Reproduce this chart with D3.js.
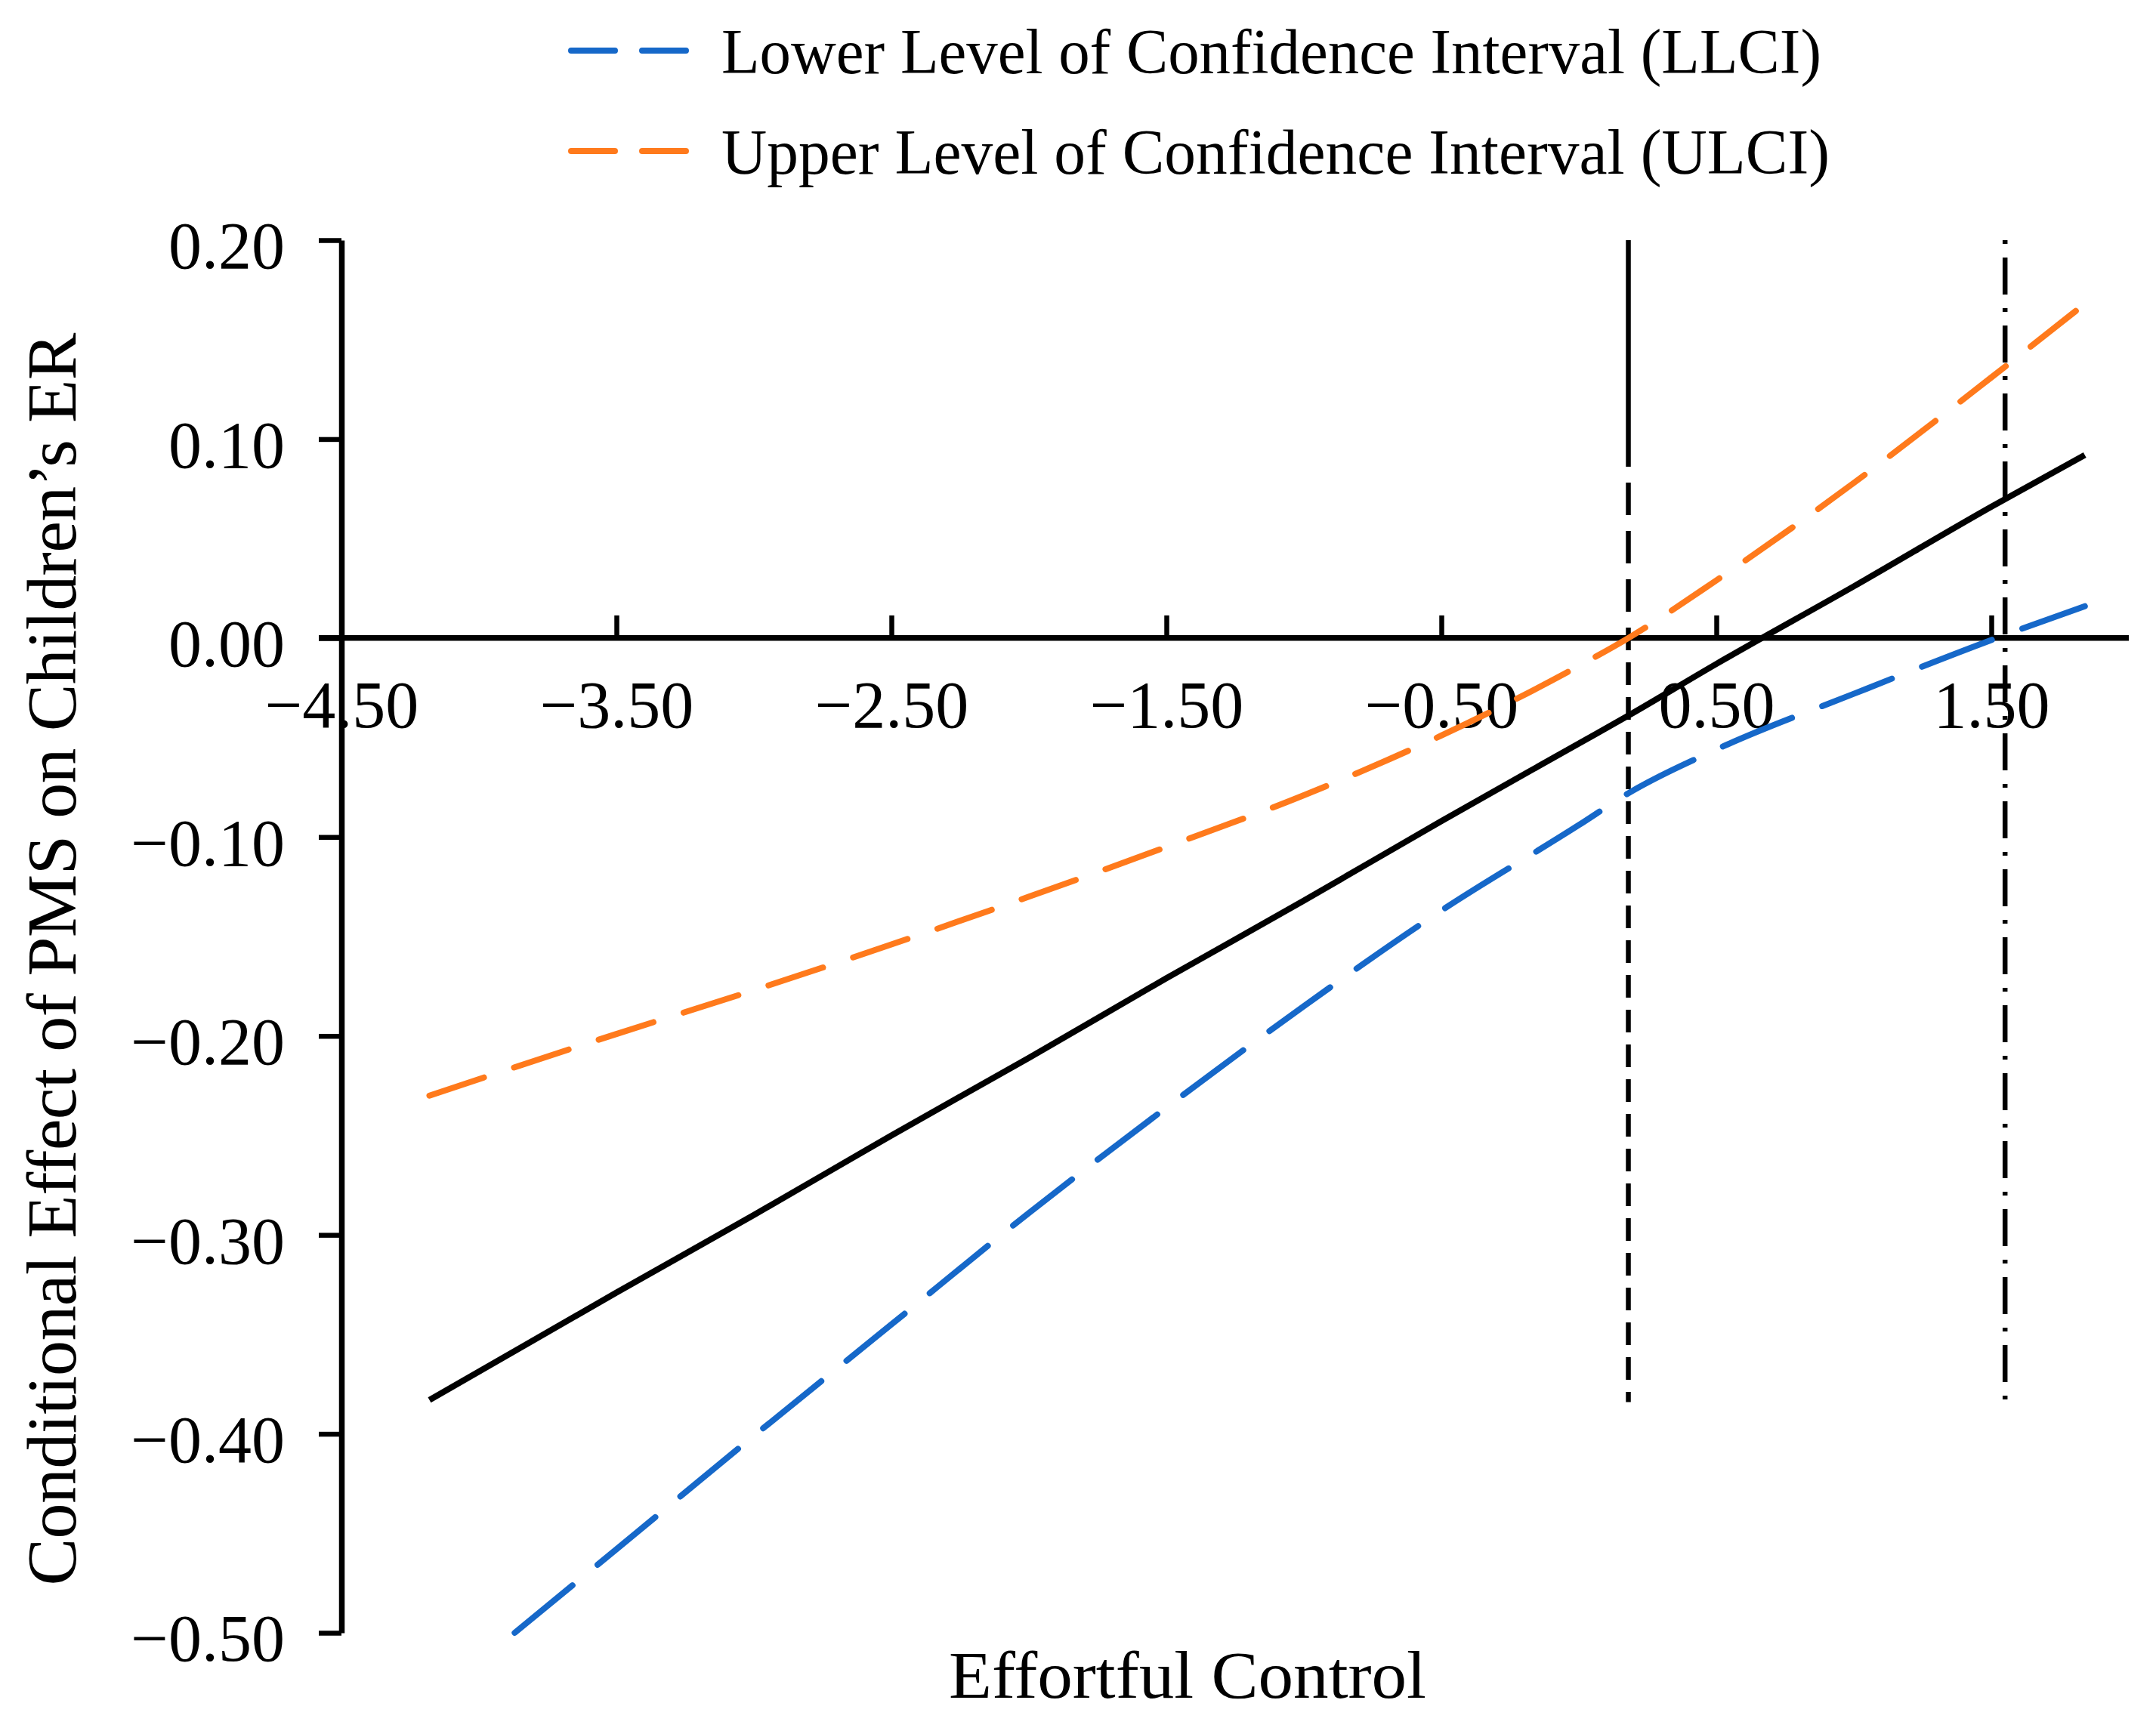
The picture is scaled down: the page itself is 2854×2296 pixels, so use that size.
<!DOCTYPE html>
<html>
<head>
<meta charset="utf-8">
<script src="https://cdn.jsdelivr.net/npm/d3@7"></script>
<style>
  html, body { margin: 0; padding: 0; background: #ffffff; }
  svg { display: block; }
  text { font-family: "Liberation Serif", "DejaVu Serif", serif; fill: #000; }
</style>
</head>
<body>
<svg id="chart" width="2854" height="2296"></svg>
<script>
// ---- Data ----
const effectX = [-4.18, -3.5, -3.0, -2.5, -2.0, -1.5, -1.0, -0.5, 0.0, 0.18, 0.5, 1.0, 1.5, 1.84];
const effect  = [-0.383, -0.329, -0.290, -0.250, -0.211, -0.171, -0.132, -0.092, -0.053, -0.039, -0.013, 0.026, 0.066, 0.092];

const ulciX = [-4.18, -3.5, -3.0, -2.5, -2.0, -1.5, -1.0, -0.5, 0.0, 0.18, 0.5, 1.0, 1.5, 1.84];
const ulci  = [-0.230, -0.199, -0.177, -0.154, -0.130, -0.105, -0.079, -0.049, -0.014, 0.000, 0.029, 0.078, 0.131, 0.168];

const llciX = [-3.87, -3.5, -3.0, -2.5, -2.0, -1.5, -1.0, -0.5, 0.0, 0.18, 0.5, 1.0, 1.5, 1.84];
const llci  = [-0.500, -0.458, -0.401, -0.345, -0.289, -0.236, -0.185, -0.137, -0.094, -0.078, -0.056, -0.028, -0.001, 0.016];

const jnPoints = [0.18, 1.55];       // Johnson-Neyman boundaries (vertical lines)
const jnBottom = -0.384;             // lower end of the vertical lines

const xTicks = [-4.5, -3.5, -2.5, -1.5, -0.5, 0.5, 1.5];
const yTicks = [0.2, 0.1, 0.0, -0.1, -0.2, -0.3, -0.4, -0.5];
const xDomain = [-4.5, 2.0];
const yDomain = [-0.5, 0.2];

const legendLabels = ["Lower Level of Confidence Interval (LLCI)", "Upper Level of Confidence Interval (ULCI)"];
const xTitle = "Effortful Control";
const yTitle = "Conditional Effect of PMS on Children\u2019s ER";

// ---- Drawing ----
const svg = d3.select("#chart");
svg.append("rect").attr("width", 2854).attr("height", 2296).attr("fill", "#fff");

const x = d3.scaleLinear().domain(xDomain).range([452, 2818]);
const y = d3.scaleLinear().domain(yDomain).range([2162, 318]);

const BLUE = "#1668C9", ORANGE = "#FF7A1C";
const fmt = d3.format(".2f");

// Y axis
const yAxis = d3.axisLeft(y).tickValues(yTicks).tickSize(30).tickSizeOuter(0).tickPadding(45).tickFormat(fmt);
const gy = svg.append("g").attr("transform", `translate(${x(xDomain[0])},0)`).call(yAxis);
gy.select(".domain").attr("stroke", "#000").attr("stroke-width", 7.5);
gy.selectAll(".tick line").attr("stroke", "#000").attr("stroke-width", 6.5);
gy.selectAll(".tick text").attr("font-size", 88).attr("dy", "0.42em")
  .attr("font-family", "Liberation Serif").attr("fill", "#000");

// X axis at y = 0 (ticks pointing up, labels below)
const xAxis = d3.axisBottom(x).tickValues(xTicks).tickSize(-30).tickSizeOuter(0).tickPadding(56).tickFormat(fmt);
const gx = svg.append("g").attr("transform", `translate(0,${y(0)})`).call(xAxis);
gx.select(".domain").remove();
gx.selectAll(".tick line").attr("stroke", "#000").attr("stroke-width", 6.5);
gx.selectAll(".tick text").attr("font-size", 88).attr("font-family", "Liberation Serif").attr("fill", "#000");
gx.append("line").attr("x1", x(xDomain[0]) - 30).attr("x2", x(xDomain[1]))
  .attr("y1", 0).attr("y2", 0).attr("stroke", "#000").attr("stroke-width", 7.5);

// Vertical Johnson-Neyman lines
const dashedArr = [300, 21, 43, 21, 43, 21, 43, 21];
for (let i = 0; i < 40; i++) dashedArr.push(30, 16);
svg.append("line")
  .attr("x1", x(jnPoints[0])).attr("x2", x(jnPoints[0]))
  .attr("y1", y(yDomain[1])).attr("y2", y(jnBottom))
  .attr("stroke", "#000").attr("stroke-width", 6.5)
  .attr("stroke-dasharray", dashedArr.join(","));
svg.append("line")
  .attr("x1", x(jnPoints[1])).attr("x2", x(jnPoints[1]))
  .attr("y1", y(yDomain[1])).attr("y2", y(jnBottom))
  .attr("stroke", "#000").attr("stroke-width", 6.5)
  .attr("stroke-dasharray", "5,18,49,18");

// Series lines
const line = d3.line().x(d => x(d[0])).y(d => y(d[1])).curve(d3.curveMonotoneX);
const zip = (a, b) => a.map((v, i) => [v, b[i]]);

svg.append("path").datum(zip(effectX, effect)).attr("d", line)
  .attr("fill", "none").attr("stroke", "#000").attr("stroke-width", 8);
svg.append("path").datum(zip(ulciX, ulci)).attr("d", line)
  .attr("fill", "none").attr("stroke", ORANGE).attr("stroke-width", 8)
  .attr("stroke-linecap", "round").attr("stroke-dasharray", "76,42");
svg.append("path").datum(zip(llciX, llci)).attr("d", line)
  .attr("fill", "none").attr("stroke", BLUE).attr("stroke-width", 8)
  .attr("stroke-linecap", "round").attr("stroke-dasharray", "99,43");

// Legend
const legendColors = [BLUE, ORANGE];
const legendTextLen = [1456, 1467];
legendLabels.forEach((lab, i) => {
  const cy = 67 + i * 133;
  svg.append("line").attr("x1", 756).attr("x2", 910).attr("y1", cy).attr("y2", cy)
    .attr("stroke", legendColors[i]).attr("stroke-width", 8)
    .attr("stroke-linecap", "round").attr("stroke-dasharray", "58,36");
  svg.append("text").attr("x", 955).attr("y", cy + 30)
    .attr("font-size", 84).attr("textLength", legendTextLen[i]).attr("lengthAdjust", "spacingAndGlyphs")
    .text(lab);
});

// Axis titles
svg.append("text").attr("x", 1572).attr("y", 2248).attr("text-anchor", "middle")
  .attr("font-size", 88).attr("textLength", 632).attr("lengthAdjust", "spacingAndGlyphs")
  .text(xTitle);
svg.append("text").attr("transform", "translate(100,1270) rotate(-90)").attr("text-anchor", "middle")
  .attr("font-size", 94).attr("textLength", 1659).attr("lengthAdjust", "spacing")
  .text(yTitle);
</script>
</body>
</html>
